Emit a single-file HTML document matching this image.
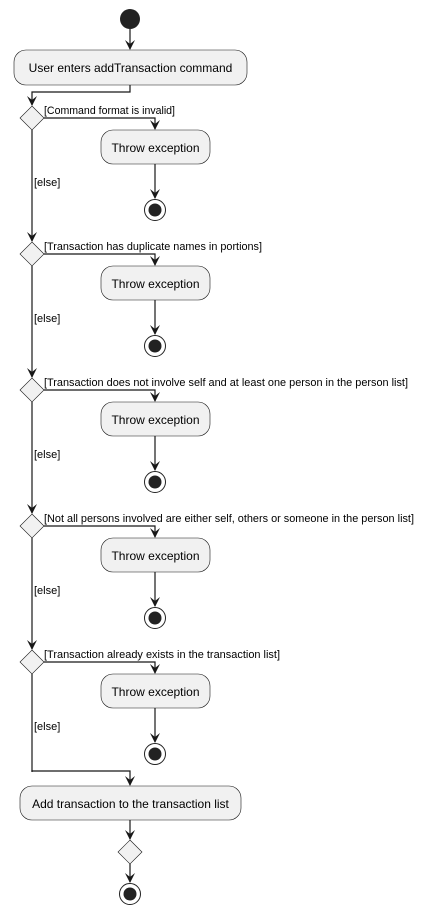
<!DOCTYPE html>
<html><head><meta charset="utf-8"><style>html,body{margin:0;padding:0;background:#fff}svg{display:block}</style></head><body>
<svg width="425" height="916" viewBox="0 0 425 916" xmlns="http://www.w3.org/2000/svg" font-family="Liberation Sans, sans-serif">
<defs>
<g id="ah"><polygon points="-5,-10 0,0 5,-10 0,-6" fill="#181818"/></g>
<g id="stop"><circle r="10.5" fill="#fff" stroke="#222" stroke-width="1"/><circle r="6.5" fill="#222"/></g>
</defs>
<g stroke="#181818" stroke-width="1.2" fill="none">
<line x1="130" y1="29" x2="130" y2="49"/>
<polyline points="130,85 130,92 32,92 32,105"/>
</g>
<circle cx="130" cy="19" r="10" fill="#222"/>
<use href="#ah" x="130" y="50"/>
<rect x="14" y="50" width="233" height="35" rx="12" fill="#f1f1f1" stroke="#181818" stroke-width="0.6"/>
<text x="130.5" y="72" font-size="12" text-anchor="middle" fill="#000">User enters addTransaction command</text>
<use href="#ah" x="32" y="106"/>

<g id="blk">
<polygon points="32,106 44,118 32,130 20,118" fill="#f1f1f1" stroke="#181818" stroke-width="0.6"/>
<polyline points="44,118 155,118 155,129" fill="none" stroke="#181818" stroke-width="1.2"/>
<use href="#ah" x="155" y="130"/>
<rect x="101" y="130" width="109" height="34" rx="12" fill="#f1f1f1" stroke="#181818" stroke-width="0.6"/>
<text x="155.5" y="152" font-size="12" text-anchor="middle">Throw exception</text>
<line x1="155" y1="164" x2="155" y2="198" stroke="#181818" stroke-width="1.2"/>
<use href="#ah" x="155" y="199"/>
<use href="#stop" x="155" y="210"/>
<line x1="32" y1="130" x2="32" y2="241" stroke="#181818" stroke-width="1.2"/>
<text x="34" y="186" font-size="11">[else]</text>
</g>
<use href="#ah" x="32" y="242"/>
<use href="#blk" y="136"/>
<use href="#ah" x="32" y="378"/>
<use href="#blk" y="272"/>
<use href="#ah" x="32" y="514"/>
<use href="#blk" y="408"/>
<use href="#ah" x="32" y="650"/>
<use href="#blk" y="544"/>
<g font-size="11">
<text x="44" y="114" textLength="131" lengthAdjust="spacingAndGlyphs">[Command format is invalid]</text>
<text x="44" y="250" textLength="218" lengthAdjust="spacingAndGlyphs">[Transaction has duplicate names in portions]</text>
<text x="44" y="386" textLength="364" lengthAdjust="spacingAndGlyphs">[Transaction does not involve self and at least one person in the person list]</text>
<text x="44" y="522" textLength="370" lengthAdjust="spacingAndGlyphs">[Not all persons involved are either self, others or someone in the person list]</text>
<text x="44" y="658" textLength="236" lengthAdjust="spacingAndGlyphs">[Transaction already exists in the transaction list]</text>
</g>
<rect x="29" y="772" width="6" height="16" fill="#fff"/>
<polyline points="32,770 32,771 130,771 130,785" fill="none" stroke="#181818" stroke-width="1.2"/>
<use href="#ah" x="130" y="786"/>
<rect x="20" y="786" width="221" height="34" rx="12" fill="#f1f1f1" stroke="#181818" stroke-width="0.6"/>
<text x="130.5" y="808" font-size="12" text-anchor="middle">Add transaction to the transaction list</text>
<line x1="130" y1="820" x2="130" y2="839" stroke="#181818" stroke-width="1.2"/>
<use href="#ah" x="130" y="840"/>
<polygon points="130,840 142,852 130,864 118,852" fill="#f1f1f1" stroke="#181818" stroke-width="0.6"/>
<line x1="130" y1="864" x2="130" y2="882" stroke="#181818" stroke-width="1.2"/>
<use href="#ah" x="130" y="883"/>
<use href="#stop" x="130" y="894"/>
</svg>
</body></html>
